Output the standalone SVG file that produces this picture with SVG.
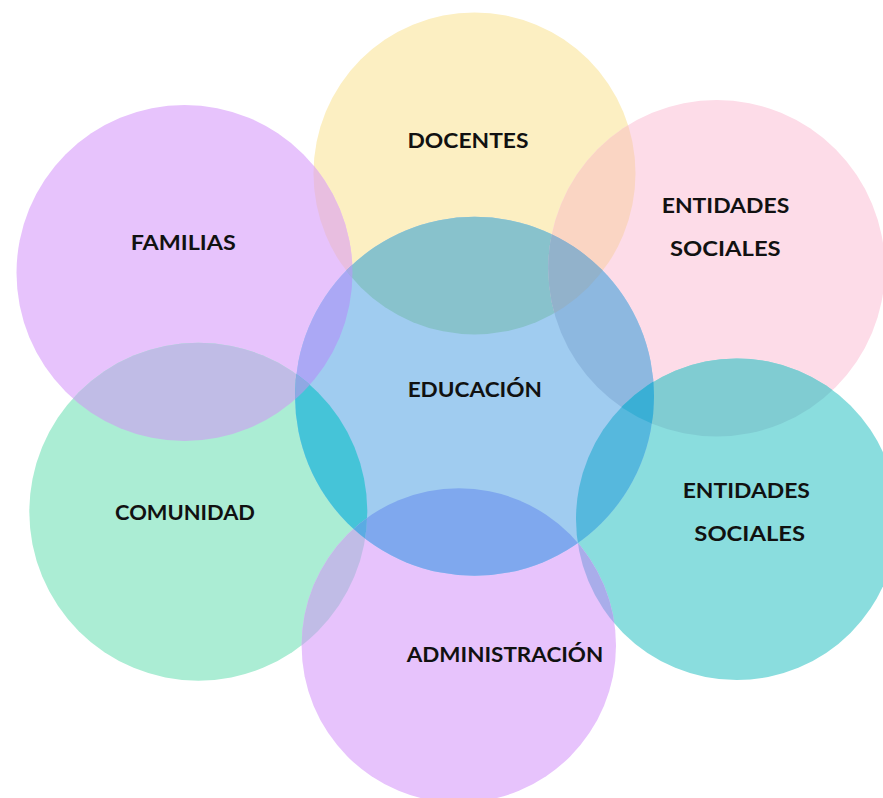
<svg xmlns="http://www.w3.org/2000/svg" width="883" height="798" viewBox="0 0 883 798">
<style>
text{font-family:Lato,"Liberation Sans",sans-serif;font-weight:700;font-size:21px;fill:#111;text-anchor:middle;lengthAdjust:spacing}
</style>
<defs>
<clipPath id="c-doc"><circle cx="474.5" cy="173.4" r="161"/></clipPath>
<clipPath id="c-fam"><circle cx="184.5" cy="273" r="168"/></clipPath>
<clipPath id="c-pink"><circle cx="716.6" cy="268.3" r="168.3"/></clipPath>
<clipPath id="c-edu"><circle cx="474.5" cy="396.3" r="179.5"/></clipPath>
<clipPath id="c-com"><circle cx="198.3" cy="511.7" r="169"/></clipPath>
<clipPath id="c-teal"><circle cx="736.8" cy="519.2" r="160.8"/></clipPath>
<clipPath id="c-adm"><circle cx="458.8" cy="645.5" r="157.2"/></clipPath>
</defs>
<rect width="883" height="798" fill="#ffffff"/>
<g id="docentes"><circle cx="474.5" cy="173.4" r="161" fill="#FCEFC2"/></g>
<g id="familias"><circle cx="184.5" cy="273" r="168" fill="#E7C3FC"/></g>
<g id="entidades-sociales-1"><circle cx="716.6" cy="268.3" r="168.3" fill="#FDDCE8"/></g>
<g id="comunidad"><circle cx="198.3" cy="511.7" r="169" fill="#ABEDD4"/></g>
<g id="entidades-sociales-2"><circle cx="736.8" cy="519.2" r="160.8" fill="#8ADDDE"/></g>
<g id="administracion"><circle cx="458.8" cy="645.5" r="157.2" fill="#E7C3FC"/></g>
<g id="educacion"><circle cx="474.5" cy="396.3" r="179.5" fill="#A0CCF0"/></g>
<g id="overlaps">
<circle cx="184.5" cy="273" r="168" fill="#E8BEE0" clip-path="url(#c-doc)"/>
<circle cx="184.5" cy="273" r="168" fill="#ABA8F5" clip-path="url(#c-edu)"/>
<circle cx="184.5" cy="273" r="168" fill="#C0BCE6" clip-path="url(#c-com)"/>
<circle cx="474.5" cy="173.4" r="161" fill="#88C2CC" clip-path="url(#c-edu)"/>
<circle cx="474.5" cy="173.4" r="161" fill="#FAD5C3" clip-path="url(#c-pink)"/>
<circle cx="716.6" cy="268.3" r="168.3" fill="#8DB8E0" clip-path="url(#c-edu)"/>
<circle cx="716.6" cy="268.3" r="168.3" fill="#80CCD2" clip-path="url(#c-teal)"/>
<circle cx="736.8" cy="519.2" r="160.8" fill="#56B8DD" clip-path="url(#c-edu)"/>
<circle cx="736.8" cy="519.2" r="160.8" fill="#A9ADEA" clip-path="url(#c-adm)"/>
<circle cx="458.8" cy="645.5" r="157.2" fill="#7FA8EE" clip-path="url(#c-edu)"/>
<circle cx="198.3" cy="511.7" r="169" fill="#45C4D8" clip-path="url(#c-edu)"/>
<circle cx="198.3" cy="511.7" r="169" fill="#C0BCE6" clip-path="url(#c-adm)"/>
<g clip-path="url(#c-edu)"><circle cx="184.5" cy="273" r="168" fill="#8FA8E3" clip-path="url(#c-com)"/></g>
<g clip-path="url(#c-edu)"><circle cx="184.5" cy="273" r="168" fill="#A6A8E8" clip-path="url(#c-doc)"/></g>
<g clip-path="url(#c-edu)"><circle cx="474.5" cy="173.4" r="161" fill="#92B2CB" clip-path="url(#c-pink)"/></g>
<g clip-path="url(#c-edu)"><circle cx="716.6" cy="268.3" r="168.3" fill="#3AAFD5" clip-path="url(#c-teal)"/></g>
<g clip-path="url(#c-edu)"><circle cx="198.3" cy="511.7" r="169" fill="#5AABE3" clip-path="url(#c-adm)"/></g>
<g clip-path="url(#c-edu)"><circle cx="736.8" cy="519.2" r="160.8" fill="#6AA8E8" clip-path="url(#c-adm)"/></g>
</g>
<g id="labels">
<text x="468" y="147.7" textLength="121" lengthAdjust="spacingAndGlyphs">DOCENTES</text>
<text x="183.2" y="250" textLength="105" lengthAdjust="spacingAndGlyphs">FAMILIAS</text>
<text x="725.5" y="213.3" textLength="127.6" lengthAdjust="spacingAndGlyphs">ENTIDADES</text>
<text x="725.3" y="255.7" textLength="110.7" lengthAdjust="spacingAndGlyphs">SOCIALES</text>
<text x="474.8" y="396.7" textLength="134.3" lengthAdjust="spacingAndGlyphs">EDUCACIÓN</text>
<text x="185" y="520" textLength="140" lengthAdjust="spacingAndGlyphs">COMUNIDAD</text>
<text x="746.3" y="498.3" textLength="127.3" lengthAdjust="spacingAndGlyphs">ENTIDADES</text>
<text x="749.7" y="541" textLength="110.7" lengthAdjust="spacingAndGlyphs">SOCIALES</text>
<text x="505" y="661.7" textLength="196.6" lengthAdjust="spacingAndGlyphs">ADMINISTRACIÓN</text>
</g>
</svg>
